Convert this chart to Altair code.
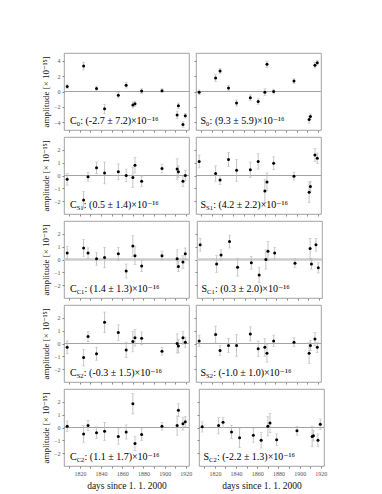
import altair as alt
import pandas as pd

days = [1808, 1823.5, 1827.7, 1835.7, 1843.3, 1856.3, 1863.7, 1870, 1872, 1878.3,
        1897.5, 1911.8, 1913, 1917.3, 1919.5]

c0 = [0.65, 3.3, None, 0.4, -2.25, -0.5, 0.8, -1.75, -1.6, 0.05, 0.1, -3.05, -1.85, -4.3, -3.15]
c0_err = [0.3, 0.5, None, 0.3, 0.6, 0.35, 0.35, 0.4, 0.35, 0.3, 0.25, 0.5, 0.35, 0.35, 0.3]
s0 = [-0.1, 1.75, 2.65, 0.45, -1.5, -0.8, -1.3, -0.1, 3.55, 0.0, 1.35, -3.65, -3.25, 3.4, 3.75]
s0_err = [0.3, 0.45, 0.35, 0.35, 0.4, 0.35, 0.35, 0.45, 0.4, 0.3, 0.3, 0.45, 0.35, 0.35, 0.3]

cs1 = [-0.3, -1.9, -0.1, 0.6, 0.2, 0.3, 0.0, -0.15, 0.8, -0.45, 0.55, 0.5, 0.3, -0.45, 0.0]
cs1_err = [0.45, 0.65, 0.35, 0.45, 0.85, 0.6, 0.5, 0.8, 0.6, 0.4, 0.35, 0.8, 0.45, 0.4, 0.4]
ss1 = [1.1, 0.15, -0.35, 1.25, 0.4, 0.45, 1.1, -1.2, -0.5, 0.95, -0.05, -1.3, -0.85, 1.6, 1.35]
ss1_err = [0.5, 0.6, 0.35, 0.55, 0.85, 0.6, 0.6, 0.9, 0.7, 0.5, 0.3, 0.8, 0.4, 0.5, 0.4]

cc1 = [0.5, 0.9, 0.5, 0.05, 0.15, 0.45, -0.9, 1.05, 0.3, -0.5, 0.3, 0.05, -0.55, -0.2, 0.45]
cc1_err = [0.5, 0.65, 0.4, 0.5, 0.8, 0.5, 0.55, 0.8, 0.7, 0.45, 0.35, 0.7, 0.4, 0.5, 0.45]
sc1 = [1.15, -0.35, 0.35, 1.4, -0.6, -0.25, -1.2, 0.0, 0.65, 0.5, -0.3, 0.85, -0.35, 1.15, -0.65]
sc1_err = [0.5, 0.65, 0.4, 0.5, 0.7, 0.5, 0.6, 0.75, 0.75, 0.45, 0.35, 0.8, 0.4, 0.5, 0.4]

cs2 = [-0.3, -1.1, 0.55, -0.8, 1.65, 0.85, -0.5, 0.15, 0.45, 0.4, -0.6, 0.0, -0.2, 0.45, 0.1]
cs2_err = [0.5, 0.65, 0.4, 0.5, 0.8, 0.6, 0.6, 0.8, 0.65, 0.5, 0.3, 0.75, 0.5, 0.5, 0.4]
ss2 = [0.2, 0.7, -0.55, -0.15, -0.15, 0.75, -0.4, -0.3, -0.75, 0.2, 0.1, -0.75, -0.15, 0.35, -0.3]
ss2_err = [0.45, 0.65, 0.4, 0.55, 0.85, 0.55, 0.6, 0.7, 0.7, 0.45, 0.35, 0.8, 0.4, 0.5, 0.4]

cc2 = [0.1, -0.5, 0.15, -0.4, -0.3, -0.7, -0.35, 1.85, -1.25, -0.55, 0.1, 0.15, 1.35, 0.3, 0.45]
cc2_err = [0.4, 0.65, 0.4, 0.45, 0.7, 0.6, 0.55, 0.8, 0.55, 0.45, 0.3, 0.75, 0.5, 0.5, 0.4]
sc2 = [0.05, 0.15, 0.4, -0.35, -0.8, -0.6, -1.0, 0.1, 0.35, -0.95, -0.25, -0.7, -0.65, -1.0, 0.25]
sc2_err = [0.4, 0.65, 0.4, 0.5, 0.75, 0.55, 0.6, 0.75, 0.75, 0.45, 0.35, 0.8, 0.4, 0.5, 0.4]

labels = [
    (("C", "0", ": (-2.7 ± 7.2)×10⁻¹⁶"), ("S", "0", ": (9.3 ± 5.9)×10⁻¹⁶")),
    (("C", "S1", ": (0.5 ± 1.4)×10⁻¹⁶"), ("S", "S1", ": (4.2 ± 2.2)×10⁻¹⁶")),
    (("C", "C1", ": (1.4 ± 1.3)×10⁻¹⁶"), ("S", "C1", ": (0.3 ± 2.0)×10⁻¹⁶")),
    (("C", "S2", ": (-0.3 ± 1.5)×10⁻¹⁶"), ("S", "S2", ": (-1.0 ± 1.0)×10⁻¹⁶")),
    (("C", "C2", ": (1.1 ± 1.7)×10⁻¹⁶"), ("S", "C2", ": (-2.2 ± 1.3)×10⁻¹⁶")),
]
series = [
    ((c0, c0_err), (s0, s0_err)),
    ((cs1, cs1_err), (ss1, ss1_err)),
    ((cc1, cc1_err), (sc1, sc1_err)),
    ((cs2, cs2_err), (ss2, ss2_err)),
    ((cc2, cc2_err), (sc2, sc2_err)),
]
domains = [[-5, 5], [-3, 3], [-3, 3], [-3, 3], [-3, 3]]
yticks = [[-4, -2, 0, 2, 4], [-2, -1, 0, 1, 2], [-2, -1, 0, 1, 2], [-2, -1, 0, 1, 2], [-2, -1, 0, 1, 2]]
xticks = [1810, 1820, 1830, 1840, 1850, 1860, 1870, 1880, 1890, 1900, 1910, 1920]

W, H = 125, 77
FONT = "Liberation Serif, Times New Roman, DejaVu Serif, serif"
char_w = {"C": 0.667, "S": 0.556, "0": 0.5, "1": 0.5, "2": 0.5}


def panel(vals, errs, dom, yt, left, bottom, lab, thick_zero):
    df = pd.DataFrame({"day": days, "v": vals, "e": errs}).dropna()
    df["lo"] = df["v"] - df["e"]
    df["hi"] = df["v"] + df["e"]
    xscale = alt.Scale(domain=[1805, 1923], nice=False, zero=False)
    yscale = alt.Scale(domain=dom, nice=False)
    xax = alt.Axis(values=xticks, labels=bottom, tickSize=2, grid=False, domain=False, format="d",
                   labelExpr="datum.value % 20 == 0 ? datum.label : ''",
                   title="days since 1. 1. 2000" if bottom else None)
    yax = alt.Axis(values=yt, labels=left, tickSize=2, grid=False, domain=False,
                   title="amplitude [× 10⁻¹⁵]" if left else None)
    x = alt.X("day:Q", scale=xscale, axis=xax)
    base = alt.Chart(df)
    zero = alt.Chart(pd.DataFrame({"z": [0]})).mark_rule(
        color="#cccccc" if thick_zero else "#999999",
        strokeWidth=2.5 if thick_zero else 0.9).encode(
        y=alt.Y("z:Q", scale=yscale, axis=yax))
    err = base.mark_rule(color="#b8b8b8", strokeWidth=0.8).encode(
        x=x, y=alt.Y("lo:Q", scale=yscale, axis=yax), y2="hi:Q")
    cap_lo = base.mark_tick(orient="horizontal", size=3, thickness=0.7, color="#b8b8b8").encode(
        x=x, y=alt.Y("lo:Q", scale=yscale, axis=yax))
    cap_hi = base.mark_tick(orient="horizontal", size=3, thickness=0.7, color="#b8b8b8").encode(
        x=x, y=alt.Y("hi:Q", scale=yscale, axis=yax))
    pts = base.mark_point(filled=True, size=9, color="black", opacity=1).encode(
        x=x, y=alt.Y("v:Q", scale=yscale, axis=yax))
    main, sub, rest = lab
    x0 = 6 if left else 4.5
    fs = 10
    xs = x0 + char_w[main] * fs
    sub_w = sum(char_w[c] for c in sub) * 6.5
    xr = xs + sub_w + 0.3
    yb = H - 6
    tdf = pd.DataFrame({"t": [main]})
    t1 = alt.Chart(tdf).mark_text(align="left", baseline="alphabetic", font=FONT, fontSize=fs).encode(
        x=alt.value(x0), y=alt.value(yb), text=alt.value(main))
    t2 = alt.Chart(tdf).mark_text(align="left", baseline="alphabetic", font=FONT, fontSize=6.5).encode(
        x=alt.value(xs), y=alt.value(yb + 2), text=alt.value(sub))
    t3 = alt.Chart(tdf).mark_text(align="left", baseline="alphabetic", font=FONT, fontSize=fs).encode(
        x=alt.value(xr), y=alt.value(yb), text=alt.value(rest))
    return alt.layer(zero, err, cap_lo, cap_hi, pts, t1, t2, t3).properties(width=W, height=H)


rows = []
for i in range(5):
    (lv, le), (rv, re_) = series[i]
    bottom = i == 4
    lp = panel(lv, le, domains[i], yticks[i], True, bottom, labels[i][0], i == 2)
    rp = panel(rv, re_, domains[i], yticks[i], False, bottom, labels[i][1], i == 2)
    rows.append(alt.hconcat(lp, rp, spacing=3))

chart = alt.vconcat(*rows, spacing=3).properties(
    padding={"left": 33, "top": 44, "right": 5, "bottom": 5}
).configure_view(stroke="#8a8a8a", strokeWidth=0.8).configure_axis(
    labelFont=FONT, titleFont=FONT, labelFontSize=6, titleFontSize=9,
    labelColor="#555555", titleColor="#111111", titleFontWeight="normal",
    tickColor="#888888", labelPadding=2, titlePadding=3
).configure_axisX(titleFontSize=9.5, titlePadding=4)

chart.save("out.html", embed_options={"renderer": "svg", "actions": False})
